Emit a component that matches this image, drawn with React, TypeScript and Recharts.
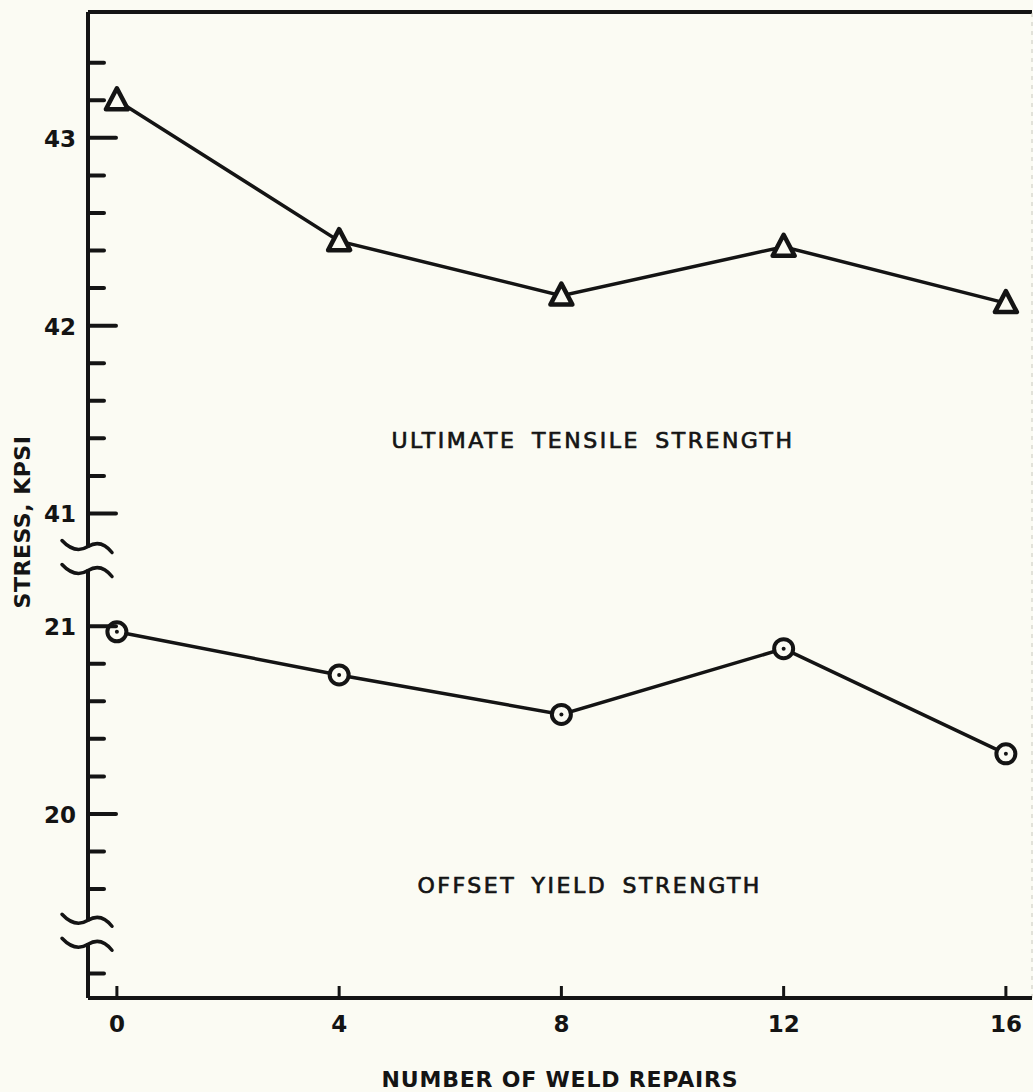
import React from 'react';
import { LineChart, Line, XAxis, YAxis, ReferenceDot, ReferenceLine, Label } from 'recharts';

// number of weld repairs
const repairs = [0, 4, 8, 12, 16];
// ultimate tensile strength, kpsi (upper part of the broken axis)
const tensile = [43.2, 42.45, 42.16, 42.42, 42.12];
// offset yield strength, kpsi (lower part of the broken axis)
const yieldStrength = [20.97, 20.74, 20.53, 20.88, 20.32];

const xTicks = [0, 4, 8, 12, 16];
const upperTicks = [41, 41.2, 41.4, 41.6, 41.8, 42, 42.2, 42.4, 42.6, 42.8, 43, 43.2, 43.4];
const lowerTicks = [19.6, 19.8, 20, 20.2, 20.4, 20.6, 20.8, 21];

// the y axis is broken: the upper section is drawn shifted down so both fit on one scale
const SHIFT = 19.4;
const toAxis = (v: number) => (v > 30 ? v - SHIFT : v);
const fromAxis = (v: number) => (v > 21.3 ? v + SHIFT : v);
const breakMarks = [21.36, 19.37];
const stubTick = 19.15;

const X_DOMAIN = [-0.52, 16.47];
const Y_DOMAIN = [19.02, 24.27];

const BG = '#fbfbf3';
const INK = '#141414';
const FONT = "'DejaVu Sans', sans-serif";

const rows = repairs.map((n, i) => ({
  repairs: n,
  uts: toAxis(tensile[i]),
  ys: yieldStrength[i],
}));

const yTicks = [...lowerTicks, ...upperTicks.map(toAxis), ...breakMarks, stubTick].sort((a, b) => a - b);

const wave = (x: number, y: number) =>
  `M${x - 26},${y - 6} Q${x - 13},${y + 8} ${x},${y} T${x + 24},${y + 6}`;

const YTick = (props: any) => {
  const { x, y, payload } = props;
  const v = payload.value;
  if (breakMarks.some((b) => Math.abs(b - v) < 1e-6)) {
    return (
      <g>
        <rect x={x - 5} y={y - 11} width={10} height={22} fill={BG} />
        <path d={wave(x, y - 12)} fill="none" stroke={INK} strokeWidth={3.5} strokeLinecap="round" />
        <path d={wave(x, y + 12)} fill="none" stroke={INK} strokeWidth={3.5} strokeLinecap="round" />
      </g>
    );
  }
  const real = Math.round(fromAxis(v) * 10) / 10;
  const major = Math.abs(v - stubTick) > 1e-6 && Number.isInteger(real);
  return (
    <g>
      <line x1={x} x2={x + (major ? 28 : 16)} y1={y} y2={y} stroke={INK} strokeWidth={4} strokeLinecap="round" />
      {major && (
        <text x={x - 12} y={y + 1} textAnchor="end" dominantBaseline="central" fontFamily={FONT} fontWeight="bold" fontSize={23} fill={INK}>
          {real}
        </text>
      )}
    </g>
  );
};

const XTick = (props: any) => {
  const { x, y, payload } = props;
  return (
    <g>
      <line x1={x} x2={x} y1={y} y2={y - 12} stroke={INK} strokeWidth={3} />
      <text x={x} y={y + 26} textAnchor="middle" dominantBaseline="central" fontFamily={FONT} fontWeight="bold" fontSize={23} fill={INK}>
        {payload.value}
      </text>
    </g>
  );
};

const TriangleDot = (props: any) => {
  const { cx, cy } = props;
  if (cx == null || cy == null) return null;
  return (
    <path
      d={`M${cx},${cy - 12} L${cx + 11},${cy + 9} L${cx - 11},${cy + 9} Z`}
      fill={BG}
      stroke={INK}
      strokeWidth={4.5}
      strokeLinejoin="round"
    />
  );
};

const CircleDot = (props: any) => {
  const { cx, cy } = props;
  if (cx == null || cy == null) return null;
  return (
    <g>
      <circle cx={cx} cy={cy} r={9.5} fill={BG} stroke={INK} strokeWidth={4} />
      <circle cx={cx} cy={cy} r={2} fill={INK} />
    </g>
  );
};

const Note = (text: string) => (p: any) => (
  <text x={p.cx} y={p.cy} textAnchor="middle" dominantBaseline="central" fontFamily={FONT} fontSize={22} letterSpacing={2.5} wordSpacing={6} fill={INK} stroke={INK} strokeWidth={0.7}>
    {text}
  </text>
);

export default function App() {
  return (
    <div style={{ position: 'absolute', left: 0, top: 0, width: 1033, height: 1092, background: BG }}>
      <LineChart width={1033} height={1092} data={rows} margin={{ top: 12, right: 1, bottom: 0, left: 0 }}>
        <XAxis
          dataKey="repairs"
          type="number"
          domain={X_DOMAIN}
          ticks={xTicks}
          interval={0}
          allowDataOverflow
          height={94}
          tickSize={0}
          tickMargin={0}
          tickLine={false}
          tick={<XTick />}
          axisLine={{ stroke: INK, strokeWidth: 4 }}
        >
          <Label
            content={(p: any) => {
              const vb = p.viewBox || { x: 88, y: 998, width: 944 };
              return (
                <text x={vb.x + vb.width / 2} y={vb.y + 81} textAnchor="middle" dominantBaseline="central" fontFamily={FONT} fontWeight="bold" fontSize={22} letterSpacing={0.8} fill={INK}>
                  NUMBER OF WELD REPAIRS
                </text>
              );
            }}
          />
        </XAxis>
        <YAxis
          type="number"
          domain={Y_DOMAIN}
          ticks={yTicks}
          interval={0}
          allowDataOverflow
          width={88}
          tickSize={0}
          tickMargin={0}
          tickLine={false}
          tick={<YTick />}
          axisLine={{ stroke: INK, strokeWidth: 4 }}
        >
          <Label
            content={(p: any) => {
              const vb = p.viewBox || { x: 0, y: 12 };
              const cx = vb.x + 22;
              const cy = vb.y + 510;
              return (
                <text x={cx} y={cy} transform={`rotate(-90 ${cx} ${cy})`} textAnchor="middle" dominantBaseline="central" fontFamily={FONT} fontWeight="bold" fontSize={22} letterSpacing={0.5} fill={INK}>
                  STRESS, KPSI
                </text>
              );
            }}
          />
        </YAxis>
        {/* frame: heavy top edge, faint right edge */}
        <ReferenceLine y={Y_DOMAIN[1]} ifOverflow="visible" stroke={INK} strokeWidth={4} />
        <ReferenceLine x={X_DOMAIN[1]} ifOverflow="visible" stroke="#c9c9c0" strokeWidth={1} strokeDasharray="4 5" />
        <ReferenceDot x={8.57} y={21.99} r={0} ifOverflow="visible" shape={Note('ULTIMATE TENSILE STRENGTH')} />
        <ReferenceDot x={8.51} y={19.62} r={0} ifOverflow="visible" shape={Note('OFFSET YIELD STRENGTH')} />
        <Line type="linear" dataKey="uts" stroke={INK} strokeWidth={3.5} dot={<TriangleDot />} activeDot={false} isAnimationActive={false} />
        <Line type="linear" dataKey="ys" stroke={INK} strokeWidth={3.5} dot={<CircleDot />} activeDot={false} isAnimationActive={false} />
      </LineChart>
    </div>
  );
}
